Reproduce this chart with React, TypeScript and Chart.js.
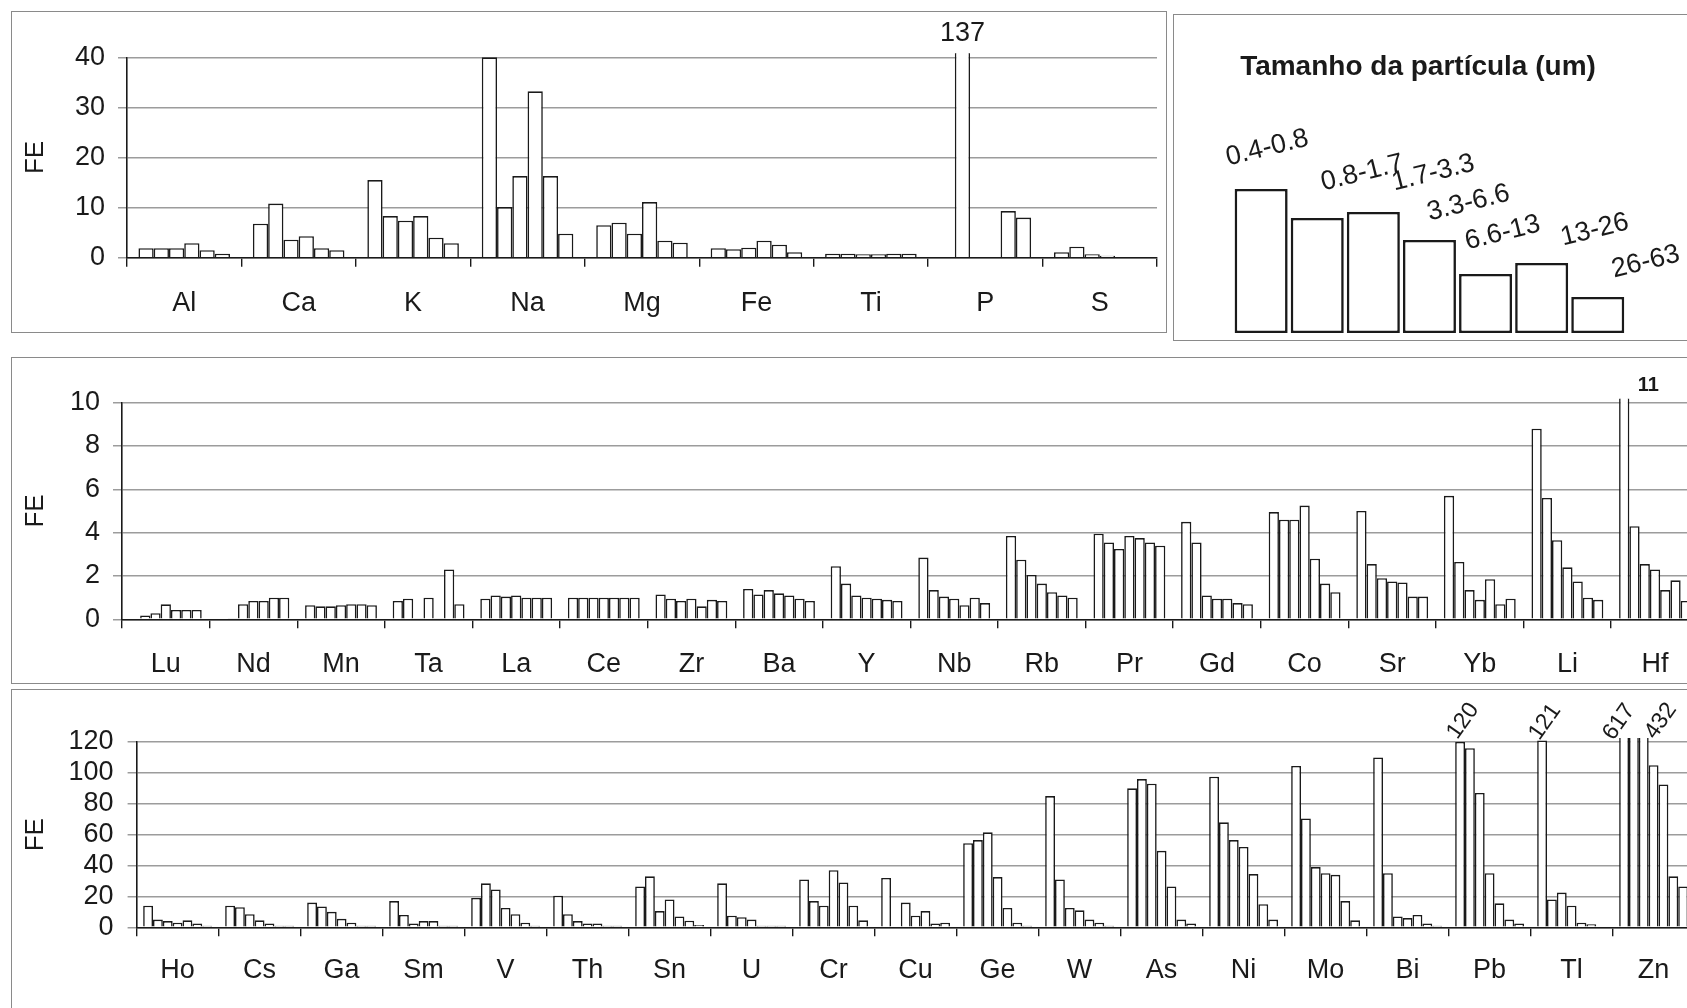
import React, { useEffect, useRef } from 'react';
import { Chart, registerables } from 'chart.js';

Chart.register(...registerables);

const FONT = "'Liberation Sans', Arial, Helvetica, sans-serif";
const INK = '#1a1a1a';
const GRID = '#9c9c9c';

// Particle size fractions (um)
const sizeLabels = ['0.4-0.8', '0.8-1.7', '1.7-3.3', '3.3-6.6', '6.6-13', '13-26', '26-63'];
// Heights of the legend key bars (decorative key)
const legendHeights = [144, 115, 121, 93, 59, 70, 36];

// ---- Top panel: major elements (six fractions) ----
const topElements = ['Al', 'Ca', 'K', 'Na', 'Mg', 'Fe', 'Ti', 'P', 'S'];
const topValues = [
  [1.9, 1.9, 1.9, 2.9, 1.5, 0.8],
  [6.8, 10.8, 3.6, 4.3, 1.9, 1.5],
  [15.5, 8.3, 7.4, 8.3, 4.0, 2.9],
  [40, 10.1, 16.3, 33.2, 16.3, 4.8],
  [6.5, 7.0, 4.8, 11.1, 3.4, 3.0],
  [1.9, 1.7, 2.0, 3.4, 2.6, 1.1],
  [0.8, 0.8, 0.7, 0.7, 0.8, 0.8],
  [0, 137, 0, 0, 9.3, 8.0],
  [1.1, 2.2, 0.7, 0.4, 0, 0],
];
const topTicks = { max: 40, step: 10 };

// ---- Middle panel ----
const midElements = ['Lu', 'Nd', 'Mn', 'Ta', 'La', 'Ce', 'Zr', 'Ba', 'Y', 'Nb', 'Rb', 'Pr', 'Gd', 'Co', 'Sr', 'Yb', 'Li', 'Hf'];
const midValues = [
  [0, 0.17, 0.28, 0.69, 0.43, 0.43, 0.43],
  [0, 0.05, 0.7, 0.85, 0.85, 1.0, 1.0],
  [0.65, 0.6, 0.6, 0.65, 0.7, 0.7, 0.65],
  [0.85, 0.95, 0.05, 1.0, 0.05, 2.3, 0.7],
  [0.95, 1.1, 1.05, 1.1, 1.0, 1.0, 1.0],
  [1.0, 1.0, 1.0, 1.0, 1.0, 1.0, 1.0],
  [1.15, 0.95, 0.85, 0.95, 0.6, 0.9, 0.85],
  [1.4, 1.15, 1.35, 1.2, 1.1, 0.95, 0.85],
  [2.45, 1.65, 1.1, 1.0, 0.95, 0.9, 0.85],
  [2.85, 1.35, 1.05, 0.95, 0.65, 1.0, 0.75],
  [3.85, 2.75, 2.05, 1.65, 1.25, 1.1, 1.0],
  [3.95, 3.55, 3.25, 3.85, 3.75, 3.55, 3.4],
  [4.5, 3.55, 1.1, 0.95, 0.95, 0.75, 0.7],
  [4.95, 4.6, 4.6, 5.25, 2.8, 1.65, 1.25],
  [5.0, 2.55, 1.9, 1.75, 1.7, 1.05, 1.05],
  [5.7, 2.65, 1.35, 0.9, 1.85, 0.7, 0.95],
  [8.8, 5.6, 3.65, 2.4, 1.75, 1.0, 0.9],
  [11, 4.3, 2.55, 2.3, 1.35, 1.8, 0.85],
];
const midTicks = { max: 10, step: 2 };

// ---- Bottom panel ----
const botElements = ['Ho', 'Cs', 'Ga', 'Sm', 'V', 'Th', 'Sn', 'U', 'Cr', 'Cu', 'Ge', 'W', 'As', 'Ni', 'Mo', 'Bi', 'Pb', 'Tl', 'Zn'];
const botValues = [
  [14, 5, 4, 3, 4.5, 2.5, 1],
  [14, 13, 8.5, 4.5, 2.5, 1, 1],
  [16, 13.5, 10, 5.5, 3, 1, 1],
  [17, 8, 2.5, 4, 4, 1, 1],
  [19, 28.5, 24.5, 12.5, 8.5, 3, 1],
  [20.5, 8.5, 4, 2.5, 2.5, 1, 1],
  [26.5, 33, 10.5, 18, 7, 4.3, 1.5],
  [28.5, 7.5, 6.5, 5, 1, 1, 1],
  [31, 17, 14, 37, 29, 14, 4.5],
  [32, 0, 16, 7.5, 10.5, 2.5, 3],
  [54.5, 56.5, 61.5, 32.5, 12.5, 3, 1],
  [85, 31, 12.5, 11, 5, 3, 1],
  [90, 96, 93, 49.5, 26.5, 5, 2.5],
  [97.5, 68, 56.5, 52, 34.5, 15, 5],
  [104.5, 70.5, 39, 35, 34, 17, 4.5],
  [110, 35, 7, 6, 8, 2.5, 1],
  [120, 116, 87, 35, 15.5, 5, 2.5],
  [121, 18, 22.5, 14, 3, 2, 0.5],
  [617, 520, 432, 105, 92.5, 33, 26.5],
];
const botTicks = { max: 120, step: 20 };

// Value labels for off-scale bars (text is the bar's value)
const topNotes = [{ cat: 7, series: 1, dx: 0, dy: -24, angle: 0, size: 27, bold: false }];
const midNotes = [{ cat: 17, series: 0, dx: 24, dy: -17, angle: 0, size: 20, bold: true }];
const botNotes = [
  { cat: 16, series: 0, dx: 3, dy: -21, angle: -55, size: 23, bold: false },
  { cat: 17, series: 0, dx: 3, dy: -20, angle: -55, size: 23, bold: false },
  { cat: 18, series: 0, dx: -5, dy: -20, angle: -55, size: 23, bold: false },
  { cat: 18, series: 2, dx: 17, dy: -21, angle: -55, size: 23, bold: false },
];
// Legend key label offsets from each key bar's top centre
const legendLabelOffsets = [
  [6, -41], [45, -45], [60, -39], [39, -37], [17, -41], [53, -33], [48, -35],
];

const notesPlugin = {
  id: 'notes',
  afterDatasetsDraw(chart: any, _args: any, opts: any) {
    const { ctx, chartArea } = chart;
    (opts.items || []).forEach((n: any) => {
      const el = chart.getDatasetMeta(n.series).data[n.cat];
      const value = chart.data.datasets[n.series].data[n.cat];
      ctx.save();
      ctx.translate(el.x + n.dx, chartArea.top + n.dy);
      ctx.rotate((n.angle * Math.PI) / 180);
      ctx.font = `${n.bold ? 'bold ' : ''}${n.size}px ${FONT}`;
      ctx.fillStyle = INK;
      ctx.textAlign = 'center';
      ctx.textBaseline = 'middle';
      ctx.fillText(String(value), 0, 0);
      ctx.restore();
    });
  },
};

const legendPlugin = {
  id: 'legendKey',
  afterDatasetsDraw(chart: any) {
    const { ctx } = chart;
    const meta = chart.getDatasetMeta(0);
    ctx.save();
    ctx.fillStyle = INK;
    ctx.font = `bold 28px ${FONT}`;
    ctx.textAlign = 'center';
    ctx.textBaseline = 'middle';
    ctx.fillText('Tamanho da partícula (um)', 243, 52);
    ctx.font = `27px ${FONT}`;
    meta.data.forEach((bar: any, i: number) => {
      const [dx, dy] = legendLabelOffsets[i];
      ctx.save();
      ctx.translate(bar.x + dx, bar.y + dy);
      ctx.rotate((-14 * Math.PI) / 180);
      ctx.fillText(sizeLabels[i], 0, 0);
      ctx.restore();
    });
    ctx.restore();
  },
};

type Spec = {
  labels: string[];
  values: number[][];
  ticks: { max: number; step: number };
  notes: any[];
  catPct: number;
  yWidth: number;
  xHeight: number;
  padTop: number;
  padRight: number;
  yPad: number;
  xPad: number;
};

function panelConfig(p: Spec): any {
  const nSeries = p.values[0].length;
  const datasets = Array.from({ length: nSeries }, (_, s) => ({
    label: sizeLabels[s],
    data: p.values.map((row) => row[s]),
    backgroundColor: '#ffffff',
    borderColor: INK,
    borderWidth: 1.6,
    borderSkipped: 'start',
    categoryPercentage: p.catPct,
    barPercentage: 1,
    clip: 4,
  }));
  return {
    type: 'bar',
    data: { labels: p.labels, datasets },
    plugins: [notesPlugin],
    options: {
      responsive: false,
      animation: false,
      events: [],
      layout: { padding: { left: 0, top: p.padTop, right: p.padRight, bottom: 0 } },
      plugins: {
        legend: { display: false },
        tooltip: { enabled: false },
        notes: { items: p.notes },
      },
      scales: {
        x: {
          type: 'category',
          offset: true,
          grid: {
            offset: true,
            drawOnChartArea: false,
            drawTicks: true,
            tickLength: 9,
            color: INK,
            lineWidth: 1.4,
          },
          border: { display: true, color: INK, width: 1.6 },
          ticks: {
            color: INK,
            font: { size: 27, family: FONT },
            padding: p.xPad,
            maxRotation: 0,
            minRotation: 0,
            autoSkip: false,
          },
          afterFit: (s: any) => {
            s.height = p.xHeight;
          },
        },
        y: {
          min: 0,
          max: p.ticks.max,
          grid: {
            color: GRID,
            lineWidth: 1.5,
            drawTicks: true,
            tickLength: 9,
            tickColor: GRID,
          },
          border: { display: true, color: INK, width: 1.6 },
          ticks: {
            stepSize: p.ticks.step,
            autoSkip: false,
            color: INK,
            font: { size: 27, family: FONT },
            padding: p.yPad,
          },
          title: {
            display: true,
            text: 'FE',
            color: INK,
            font: { size: 26, family: FONT },
            padding: { top: 20, bottom: 0 },
          },
          afterFit: (s: any) => {
            s.width = p.yWidth;
          },
        },
      },
    },
  };
}

function legendConfig(): any {
  return {
    type: 'bar',
    data: {
      labels: sizeLabels,
      datasets: [
        {
          data: legendHeights,
          backgroundColor: '#ffffff',
          borderColor: INK,
          borderWidth: 2.6,
          borderSkipped: false,
          categoryPercentage: 1,
          barPercentage: 0.945,
        },
      ],
    },
    plugins: [legendPlugin],
    options: {
      responsive: false,
      animation: false,
      events: [],
      layout: { padding: { left: 58.1, right: 61.2, top: 168, bottom: 8 } },
      plugins: { legend: { display: false }, tooltip: { enabled: false } },
      scales: {
        x: { display: false },
        y: { display: false, min: 0, max: 150 },
      },
    },
  };
}

function ChartCanvas(props: { make: () => any; left: number; top: number; width: number; height: number }) {
  const ref = useRef<HTMLCanvasElement | null>(null);
  useEffect(() => {
    if (!ref.current) return;
    const chart = new Chart(ref.current, props.make());
    return () => chart.destroy();
  }, []);
  return (
    <canvas
      ref={ref}
      width={props.width}
      height={props.height}
      style={{ position: 'absolute', left: props.left, top: props.top, width: props.width, height: props.height, display: 'block' }}
    />
  );
}

const frame = (left: number, top: number, width: number, height: number): React.CSSProperties => ({
  position: 'absolute',
  left,
  top,
  width,
  height,
  border: '1.5px solid #8a8a8a',
  boxSizing: 'border-box',
});

export default function App() {
  return (
    <div style={{ position: 'fixed', left: 0, top: 0, width: 1687, height: 1008, overflow: 'hidden', background: '#ffffff' }}>
      <div style={frame(11, 11, 1156, 322)} />
      <div style={frame(1173, 14, 600, 327)} />
      <div style={frame(11, 357, 1700, 327)} />
      <div style={frame(11, 689, 1700, 340)} />
      <ChartCanvas
        left={0}
        top={0}
        width={1170}
        height={340}
        make={() =>
          panelConfig({
            labels: topElements,
            values: topValues,
            ticks: topTicks,
            notes: topNotes,
            catPct: 0.8,
            yWidth: 127,
            xHeight: 82.3,
            padTop: 57.3,
            padRight: 13,
            yPad: 13,
            xPad: 20.5,
          })
        }
      />
      <ChartCanvas left={1175} top={15} width={512} height={326} make={legendConfig} />
      <ChartCanvas
        left={0}
        top={345}
        width={1710}
        height={345}
        make={() =>
          panelConfig({
            labels: midElements,
            values: midValues,
            ticks: midTicks,
            notes: midNotes,
            catPct: 0.82,
            yWidth: 122,
            xHeight: 70.7,
            padTop: 57.7,
            padRight: 11.2,
            yPad: 13,
            xPad: 20.5,
          })
        }
      />
      <ChartCanvas
        left={0}
        top={690}
        width={1710}
        height={318}
        make={() =>
          panelConfig({
            labels: botElements,
            values: botValues,
            ticks: botTicks,
            notes: botNotes,
            catPct: 0.84,
            yWidth: 136.6,
            xHeight: 80.7,
            padTop: 52,
            padRight: 15.4,
            yPad: 14,
            xPad: 18,
          })
        }
      />
    </div>
  );
}
